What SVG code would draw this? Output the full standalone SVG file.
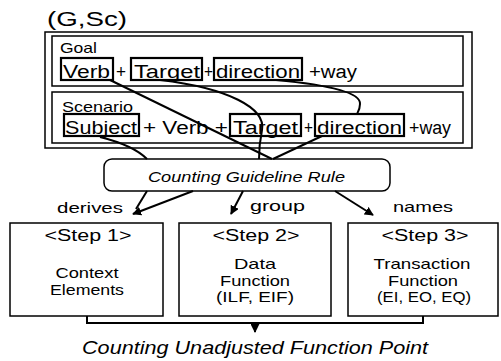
<svg xmlns="http://www.w3.org/2000/svg" width="501" height="361" viewBox="0 0 501 361">
  <style>
    text { font-family: "Liberation Sans", Arial, sans-serif; fill: #000; }
    .frame { fill: none; stroke: #000; stroke-width: 1.5; }
    .word { fill: none; stroke: #000; stroke-width: 2.2; }
    .row { font-size: 18px; }
    .lbl { font-size: 15px; }
    .it { font-style: italic; }
    .mid { text-anchor: middle; }
    .box { font-size: 15px; }
    .step { font-size: 16px; }
    .link { fill: none; stroke: #000; stroke-width: 2; }
    .arrow { fill: none; stroke: #000; stroke-width: 2; marker-end: url(#head); }
  </style>
  <defs>
    <marker id="head" viewBox="0 0 10 10" refX="9" refY="5" markerWidth="9" markerHeight="9" markerUnits="userSpaceOnUse" orient="auto">
      <path d="M0,0 L10,5 L0,10 z" fill="#000"/>
    </marker>
  </defs>

  <rect width="501" height="361" fill="#fff"/>

  <!-- header -->
  <g id="title">
    <text x="47" y="26" font-size="21" textLength="80" lengthAdjust="spacingAndGlyphs">(G,Sc)</text>
    <rect class="frame" x="45" y="32" width="427" height="116"/>
  </g>

  <!-- goal sentence -->
  <g id="goal">
    <rect class="frame" x="52" y="36" width="411" height="50"/>
    <text class="lbl" x="60" y="53" textLength="37" lengthAdjust="spacingAndGlyphs">Goal</text>
    <rect class="word" x="61" y="58" width="52" height="22"/>
    <text class="row" x="63" y="78" textLength="47" lengthAdjust="spacingAndGlyphs">Verb</text>
    <text class="row" x="116" y="78" textLength="10" lengthAdjust="spacingAndGlyphs">+</text>
    <rect class="word" x="131" y="58" width="71" height="22"/>
    <text class="row" x="134" y="78" textLength="66" lengthAdjust="spacingAndGlyphs">Target</text>
    <text class="row" x="204" y="78" textLength="9" lengthAdjust="spacingAndGlyphs">+</text>
    <rect class="word" x="214" y="58" width="88" height="22"/>
    <text class="row" x="216" y="78" textLength="84" lengthAdjust="spacingAndGlyphs">direction</text>
    <text class="row" x="309" y="78" textLength="48" lengthAdjust="spacingAndGlyphs">+way</text>
  </g>

  <!-- scenario sentence -->
  <g id="scenario">
    <rect class="frame" x="52" y="92" width="411" height="51"/>
    <text class="lbl" x="62" y="112" textLength="71" lengthAdjust="spacingAndGlyphs">Scenario</text>
    <rect class="word" x="64" y="114" width="75" height="22"/>
    <text class="row" x="65" y="134" textLength="72" lengthAdjust="spacingAndGlyphs">Subject</text>
    <text class="row" x="143" y="134" textLength="85" lengthAdjust="spacingAndGlyphs">+ Verb +</text>
    <rect class="word" x="230" y="114" width="71" height="22"/>
    <text class="row" x="233" y="134" textLength="65" lengthAdjust="spacingAndGlyphs">Target</text>
    <text class="row" x="304" y="134" textLength="9" lengthAdjust="spacingAndGlyphs">+</text>
    <rect class="word" x="315" y="114" width="89" height="22"/>
    <text class="row" x="317" y="134" textLength="85" lengthAdjust="spacingAndGlyphs">direction</text>
    <text class="row" x="409" y="134" textLength="42" lengthAdjust="spacingAndGlyphs">+way</text>
  </g>

  <!-- rule -->
  <g id="rule">
    <rect class="frame" x="104" y="159" width="286" height="32" rx="8"/>
    <text class="box it" x="148" y="182" textLength="197" lengthAdjust="spacingAndGlyphs">Counting Guideline Rule</text>
  </g>

  <!-- steps -->
  <g id="step1">
    <rect class="frame" x="10" y="223" width="153" height="93"/>
    <text class="step mid" x="88" y="241" textLength="87" lengthAdjust="spacingAndGlyphs">&lt;Step 1&gt;</text>
    <text class="box mid" x="87" y="278" textLength="63" lengthAdjust="spacingAndGlyphs">Context</text>
    <text class="box mid" x="87" y="295" textLength="74" lengthAdjust="spacingAndGlyphs">Elements</text>
  </g>
  <g id="step2">
    <rect class="frame" x="179" y="223" width="152" height="93"/>
    <text class="step mid" x="256" y="241" textLength="87" lengthAdjust="spacingAndGlyphs">&lt;Step 2&gt;</text>
    <text class="box mid" x="255" y="269" textLength="42" lengthAdjust="spacingAndGlyphs">Data</text>
    <text class="box mid" x="255" y="286" textLength="70" lengthAdjust="spacingAndGlyphs">Function</text>
    <text class="box mid" x="255" y="302" textLength="78" lengthAdjust="spacingAndGlyphs">(ILF, EIF)</text>
  </g>
  <g id="step3">
    <rect class="frame" x="348" y="223" width="150" height="93"/>
    <text class="step mid" x="425" y="241" textLength="87" lengthAdjust="spacingAndGlyphs">&lt;Step 3&gt;</text>
    <text class="box mid" x="422" y="269" textLength="97" lengthAdjust="spacingAndGlyphs">Transaction</text>
    <text class="box mid" x="423" y="286" textLength="70" lengthAdjust="spacingAndGlyphs">Function</text>
    <text class="box mid" x="424" y="302" textLength="94" lengthAdjust="spacingAndGlyphs">(EI, EO, EQ)</text>
  </g>

  <!-- edge labels -->
  <g id="labels">
    <text class="lbl" x="57" y="213" font-size="16" textLength="66" lengthAdjust="spacingAndGlyphs">derives</text>
    <text class="lbl" x="250" y="211" font-size="16" textLength="55" lengthAdjust="spacingAndGlyphs">group</text>
    <text class="lbl" x="393" y="212" font-size="16" textLength="60" lengthAdjust="spacingAndGlyphs">names</text>
  </g>

  <g id="result">
    <text class="it" x="82" y="354" font-size="18" textLength="346" lengthAdjust="spacingAndGlyphs">Counting Unadjusted Function Point</text>
  </g>

  <!-- connectors -->
  <g id="connectors">
    <!-- words into the rule -->
    <path class="link" d="M110,80 L272,159"/>
    <path class="link" d="M160,80 C228,88 266,108 262,130 C259,145 259,152 259,159"/>
    <path class="link" d="M276,80 C330,85 361,93 360,104 C360,109 358,112 357,114"/>
    <path class="link" d="M100,137 C120,142 138,150 147,159"/>
    <path class="link" d="M322,136 L273,159"/>
    <!-- rule to steps -->
    <path class="arrow" d="M193,191 L133,214"/>
    <path class="link" d="M147,191 L136,209"/>
    <path class="arrow" d="M243,191 L231,214"/>
    <path class="arrow" d="M335,191 L373,215"/>
    <!-- steps merge into the result -->
    <path class="link" d="M87,316 V323 H423 V316"/>
    <path class="arrow" d="M255,323 V332"/>
  </g>
</svg>
